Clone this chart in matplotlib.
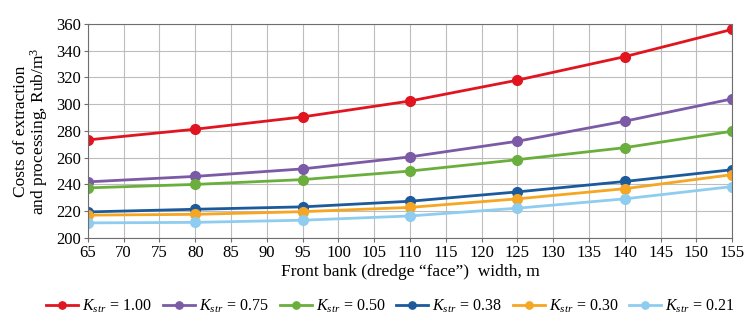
import numpy as np
import matplotlib
matplotlib.use("Agg")
import matplotlib.pyplot as plt

plt.rcParams['font.family'] = ['Liberation Serif', 'DejaVu Serif']
plt.rcParams['mathtext.fontset'] = 'custom'
plt.rcParams['mathtext.rm'] = 'Liberation Serif'
plt.rcParams['mathtext.it'] = 'Liberation Serif:italic'

width = [65, 80, 95, 110, 125, 140, 155]
k_labels = ["1.00", "0.75", "0.50", "0.38", "0.30", "0.21"]
cost_100 = [273.3, 281.3, 290.5, 302.4, 318.0, 335.6, 356.0]
cost_075 = [241.9, 246.0, 251.6, 260.6, 272.3, 287.3, 304.0]
cost_050 = [237.4, 240.0, 243.6, 250.0, 258.5, 267.5, 279.8]
cost_038 = [219.4, 221.4, 223.2, 227.4, 234.4, 242.2, 251.0]
cost_030 = [217.0, 217.6, 219.6, 222.8, 229.2, 236.8, 247.3]
cost_021 = [211.2, 211.6, 213.2, 216.4, 222.2, 229.2, 238.4]
colors = ['#e0151f', '#7b5aa6', '#6aaf3d', '#1c5a9b', '#f5a623', '#8ecdf0']

series = [cost_100, cost_075, cost_050, cost_038, cost_030, cost_021]

fig = plt.figure(figsize=(7.51, 3.29), dpi=100)
ax = fig.add_axes([0.117, 0.277, 0.858, 0.65])

for vals, lab, c in zip(series, k_labels, colors):
    ax.plot(width, vals, color=c, linewidth=2.0, marker='o', markersize=7,
            label=r'$K_{str}$' + ' = ' + lab)

ax.set_xlim(65, 155)
ax.set_ylim(200, 360)
ax.set_xticks(np.arange(65, 156, 5))
ax.set_yticks(np.arange(200, 361, 20))
ax.grid(True, color='#bdbdbd', linewidth=0.8)
ax.set_axisbelow(True)
for s in ax.spines.values():
    s.set_color('#6e6e6e')
ax.tick_params(labelsize=12, length=3, color='#6e6e6e', pad=2)

ax.set_xlabel('Front bank (dredge \u201cface\u201d)  width, m', fontsize=12.5, labelpad=2)
ax.set_ylabel('Costs of extraction\nand processing, Rub/m$^3$', fontsize=12.5,
              linespacing=0.95, labelpad=4)

fig.legend(loc='lower center', bbox_to_anchor=(0.52, 0.0), ncol=6, frameon=False,
           fontsize=11.5, handlelength=2.0, handletextpad=0.25, columnspacing=0.7,
           markerscale=0.75)

fig.savefig('out.png', dpi=100)
